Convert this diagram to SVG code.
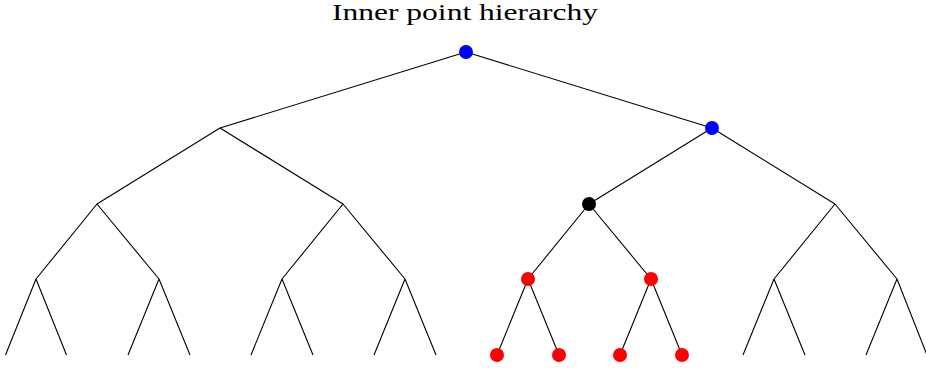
<svg xmlns="http://www.w3.org/2000/svg" width="926" height="368" viewBox="0 0 926 368">
<style>
.e{stroke:#000;stroke-width:1.1;fill:none}
.title{font-family:"Liberation Serif","DejaVu Serif",serif;font-size:23px;fill:#000}
.blue{fill:#0000ff}
.red{fill:#ff0000}
.black{fill:#000}
</style>
<rect width="926" height="368" fill="#fff"/>
<text class="title" x="332" y="20" textLength="266" lengthAdjust="spacingAndGlyphs">Inner point hierarchy</text>
<g id="connectors" class="e">
<path d="M466,52 L220,128 M466,52 L712,128"/>
<path d="M220,128 L97,204 M220,128 L343,204 M712,128 L589,204 M712,128 L835,204"/>
<path d="M97,204 L36,279 M97,204 L159,279 M343,204 L282,279 M343,204 L405,279 M589,204 L528,279 M589,204 L651,279 M835,204 L774,279 M835,204 L897,279"/>
<path d="M36,279 L5.5,355 M36,279 L66.5,355 M159,279 L128,355 M159,279 L190,355 M282,279 L251,355 M282,279 L313,355 M405,279 L374,355 M405,279 L436,355 M528,279 L497,355 M528,279 L559,355 M651,279 L620,355 M651,279 L682,355 M774,279 L743,355 M774,279 L805,355 M897,279 L866,355 M897,279 L927,355"/>
</g>
<g id="n-root"><circle class="blue" cx="466" cy="52" r="7"/></g>
<g id="n-r"><circle class="blue" cx="712" cy="128" r="7"/></g>
<g id="n-rl"><circle class="black" cx="589" cy="204" r="7"/></g>
<g id="n-rll"><circle class="red" cx="528" cy="279" r="7"/></g>
<g id="n-rlr"><circle class="red" cx="651" cy="279" r="7"/></g>
<g id="n-leaf1"><circle class="red" cx="497" cy="355" r="7"/></g>
<g id="n-leaf2"><circle class="red" cx="559" cy="355" r="7"/></g>
<g id="n-leaf3"><circle class="red" cx="620" cy="355" r="7"/></g>
<g id="n-leaf4"><circle class="red" cx="682" cy="355" r="7"/></g>
</svg>
